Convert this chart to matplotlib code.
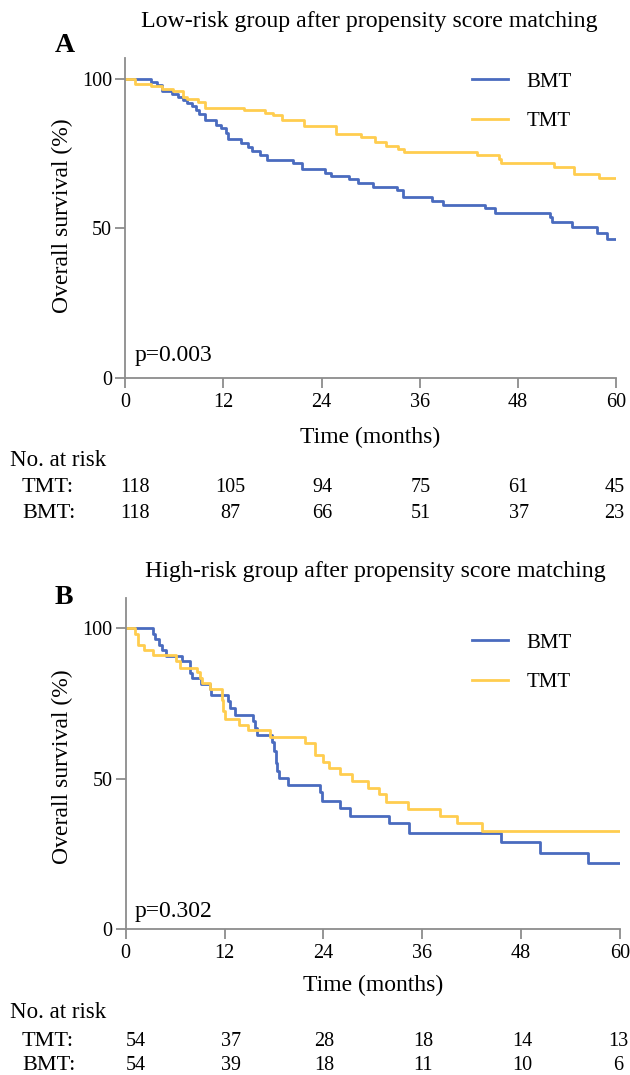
import matplotlib
matplotlib.use("Agg")
import matplotlib.pyplot as plt
from matplotlib.transforms import blended_transform_factory

plt.rcParams['font.family'] = ['Liberation Serif', 'DejaVu Serif']

# ---------------- data ----------------
xticks = [0, 12, 24, 36, 48, 60]
yticks = [0, 50, 100]

# Panel A: low-risk
a_tmt_t = [0, 1.2, 3.1, 4.5, 5.8, 7.1, 7.6, 8.9, 9.8, 14.5, 17.1, 18.0, 19.1, 21.9, 25.8,
           28.8, 30.5, 31.9, 33.3, 34.1, 43.0, 45.7, 45.9, 52.4, 54.9, 57.9, 60]
a_tmt_s = [100, 98.3, 97.7, 96.6, 95.8, 94.1, 93.2, 92.2, 90.4, 89.5, 88.5, 87.9, 86.3, 84.3, 81.5,
           80.7, 78.8, 77.6, 76.6, 75.7, 74.5, 73.2, 72.0, 70.7, 68.3, 66.8, 66.8]
a_bmt_t = [0, 3.2, 3.9, 4.5, 5.7, 6.4, 7.0, 7.6, 8.2, 8.6, 9.0, 9.8, 11.1, 11.7, 12.3, 12.6,
           14.1, 15.0, 15.5, 16.5, 17.3, 20.5, 21.6, 24.4, 25.2, 27.3, 28.4, 30.3, 33.2, 34.0,
           37.5, 38.9, 44.0, 45.2, 51.9, 52.2, 54.6, 57.7, 58.9, 60]
a_bmt_s = [100, 99.1, 98.0, 95.8, 94.9, 93.9, 93.0, 92.1, 91.0, 89.6, 88.3, 86.3, 84.6, 83.5, 81.8, 79.9,
           78.5, 77.4, 75.9, 74.6, 72.9, 71.8, 69.9, 68.7, 67.6, 66.5, 65.1, 64.0, 62.9, 60.6,
           59.2, 57.9, 56.7, 55.3, 54.0, 52.2, 50.4, 48.5, 46.5, 46.5]
a_risk_tmt = [118, 105, 94, 75, 61, 45]
a_risk_bmt = [118, 87, 66, 51, 37, 23]
a_title = "Low-risk group after propensity score matching"
a_p = "p=0.003"

# Panel B: high-risk
b_tmt_t = [0, 1.13, 1.5, 2.2, 3.35, 6.1, 6.6, 8.6, 9.0, 9.3, 10.2, 11.65, 11.8, 12.1, 13.7, 14.9,
           17.5, 21.8, 23.0, 24.0, 24.7, 26.0, 27.5, 29.4, 30.7, 31.6, 34.3, 38.1, 40.2, 43.2, 60]
b_tmt_s = [100, 98.1, 94.5, 92.8, 91.1, 88.9, 86.9, 85.3, 83.4, 81.7, 79.9, 76.2, 72.3, 69.9, 67.9, 66.2,
           63.8, 61.8, 57.9, 55.4, 53.5, 51.5, 49.3, 46.9, 44.7, 42.1, 39.9, 37.5, 35.3, 32.6, 32.6]
b_bmt_t = [0, 3.35, 3.6, 4.0, 4.4, 4.85, 6.8, 7.8, 8.0, 9.2, 10.2, 10.4, 12.45, 12.7, 13.3,
           15.4, 15.7, 15.9, 17.7, 18.0, 18.2, 18.4, 18.6, 19.7, 23.6, 23.8, 26.0, 27.2, 31.9,
           34.4, 45.5, 50.3, 56.1, 60]
b_bmt_s = [100, 98.1, 96.3, 94.4, 92.6, 90.7, 88.9, 85.2, 83.3, 81.5, 79.6, 77.8, 75.9, 73.4, 71.2,
           69.0, 66.8, 64.6, 62.0, 59.0, 55.2, 52.4, 50.2, 48.0, 45.4, 42.6, 40.3, 37.7, 35.3,
           32.0, 28.9, 25.1, 21.8, 21.8]
b_risk_tmt = [54, 37, 28, 18, 14, 13]
b_risk_bmt = [54, 39, 18, 11, 10, 6]
b_title = "High-risk group after propensity score matching"
b_p = "p=0.302"

BLUE = '#4A6BBF'
YELLOW = '#FFCD4F'
GRAY = '#8C8C8C'

W, H = 630, 1075
fig = plt.figure(figsize=(W / 100, H / 100), dpi=100)


def fy(py):
    return 1 - py / H


def fx(px):
    return px / W


def panel(rect, ylim_top, tmt_t, tmt_s, bmt_t, bmt_s, risk_tmt, risk_bmt,
          title, letter, pval, ys, title_x, letter_y, xl_x):
    ax = fig.add_axes(rect)
    ax.step(bmt_t, bmt_s, where='post', color=BLUE, lw=2.0, label='BMT')
    ax.step(tmt_t, tmt_s, where='post', color=YELLOW, lw=2.0, label='TMT')
    ax.set_xlim(0, 60)
    ax.set_ylim(0, ylim_top)
    ax.set_xticks(xticks)
    ax.set_yticks(yticks)
    for s in ['top', 'right']:
        ax.spines[s].set_visible(False)
    for s in ['left', 'bottom']:
        ax.spines[s].set_color(GRAY)
        ax.spines[s].set_linewidth(1.3)
    ax.tick_params(axis='both', colors=GRAY, labelcolor='black', labelsize=14.5,
                   length=7.5, width=1.3, direction='out')
    ax.tick_params(axis='x', pad=3)
    ax.tick_params(axis='y', pad=2)

    # legend
    ax.legend(loc='upper left', bbox_to_anchor=(fx(472), fy(ys['leg'])),
              bbox_transform=fig.transFigure, frameon=False, fontsize=15,
              handlelength=1.75, handletextpad=0.85, labelspacing=0.95,
              borderpad=0, borderaxespad=0)

    fig.text(fx(title_x), fy(ys['title']), title, ha='center', va='center', fontsize=17.2)
    fig.text(fx(55), fy(letter_y), letter, ha='left', va='center', fontsize=20, fontweight='bold')
    fig.text(fx(62), fy(ys['ylab']), 'Overall survival (%)', rotation=90,
             ha='center', va='center', fontsize=17)
    fig.text(fx(135), fy(ys['p']), pval, ha='left', va='center', fontsize=17)
    fig.text(fx(xl_x), fy(ys['xlab']), 'Time (months)', ha='center', va='center', fontsize=17)

    # risk table
    fig.text(fx(10), fy(ys['nar']), 'No. at risk', ha='left', va='center', fontsize=16.5)
    fig.text(fx(22), fy(ys['tmt']), 'TMT:', ha='left', va='center', fontsize=16)
    fig.text(fx(22), fy(ys['bmt']), 'BMT:', ha='left', va='center', fontsize=16)
    tr = blended_transform_factory(ax.transData, fig.transFigure)
    offs = [1.2, 0.8, 0.1, 0.1, 0.1, -0.2]
    for i, t in enumerate(xticks):
        ax.text(t + offs[i], fy(ys['tmt']), str(risk_tmt[i]), transform=tr,
                ha='center', va='center', fontsize=14.5, clip_on=False)
        ax.text(t + offs[i], fy(ys['bmt']), str(risk_bmt[i]), transform=tr,
                ha='center', va='center', fontsize=14.5, clip_on=False)
    return ax


# Panel A
panel([fx(125.3), fy(378), fx(616) - fx(125.3), (378 - 58) / H], 107,
      a_tmt_t, a_tmt_s, a_bmt_t, a_bmt_s, a_risk_tmt, a_risk_bmt,
      a_title, 'A', a_p,
      dict(title=22, ylab=216, p=355, xlab=437, nar=461, tmt=488, bmt=514, leg=72),
      title_x=369, letter_y=45, xl_x=370)

# Panel B
panel([fx(125.7), fy(929), fx(620) - fx(125.7), (929 - 598) / H], 110,
      b_tmt_t, b_tmt_s, b_bmt_t, b_bmt_s, b_risk_tmt, b_risk_bmt,
      b_title, 'B', b_p,
      dict(title=572, ylab=767, p=912, xlab=985, nar=1012, tmt=1041, bmt=1066, leg=633),
      title_x=375, letter_y=597, xl_x=373)

fig.savefig('out.png', dpi=100)
